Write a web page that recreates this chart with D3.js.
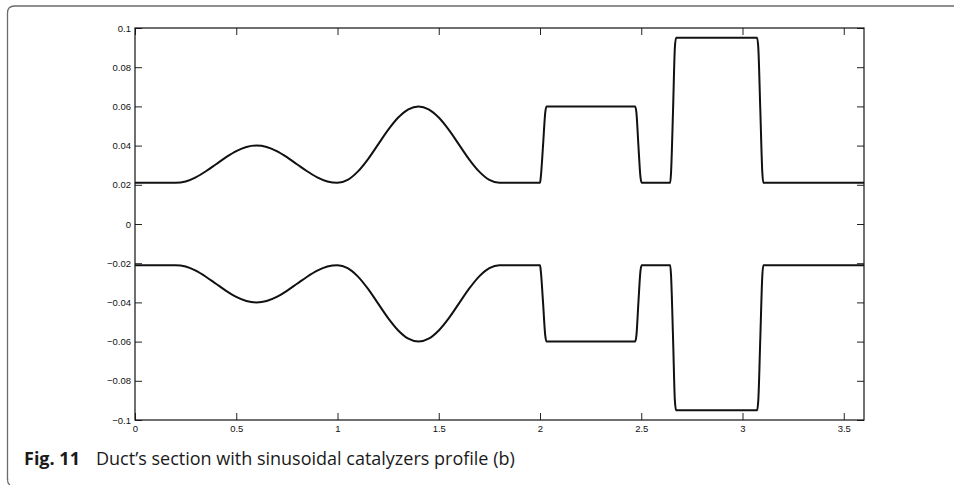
<!DOCTYPE html>
<html>
<head>
<meta charset="utf-8">
<script src="https://cdn.jsdelivr.net/npm/d3@7"></script>
<style>
  html, body { margin: 0; padding: 0; background: #fff; }
  svg { display: block; }
</style>
</head>
<body>
<svg id="chart" width="954" height="485"></svg>
<script>
// Axial position along the duct
const xPos = [0, 0.1, 0.2, 0.25, 0.3, 0.35, 0.4, 0.45, 0.5, 0.55, 0.6, 0.65, 0.7, 0.75, 0.8, 0.85, 0.9, 0.95, 1.0,
  1.05, 1.1, 1.15, 1.2, 1.25, 1.3, 1.35, 1.4, 1.45, 1.5, 1.55, 1.6, 1.65, 1.7, 1.75, 1.8, 1.9,
  2.0, 2.004, 2.015, 2.026, 2.032, 2.47, 2.476, 2.486, 2.496, 2.502,
  2.643, 2.647, 2.657, 2.666, 2.672, 3.072, 3.078, 3.088, 3.098, 3.103, 3.6];

// Upper wall of the duct section
const upperWall = [0.021, 0.021, 0.021, 0.0217, 0.0238, 0.0269, 0.0305, 0.0341, 0.0372, 0.0393, 0.040, 0.0393, 0.0372, 0.0341, 0.0305, 0.0269, 0.0238, 0.0217, 0.021,
  0.0225, 0.0267, 0.0330, 0.0405, 0.0480, 0.0543, 0.0585, 0.060, 0.0585, 0.0543, 0.0480, 0.0405, 0.0330, 0.0267, 0.0225, 0.021, 0.021,
  0.021, 0.024, 0.040, 0.057, 0.060, 0.060, 0.057, 0.040, 0.024, 0.021,
  0.021, 0.026, 0.058, 0.090, 0.095, 0.095, 0.090, 0.058, 0.026, 0.021, 0.021];

// Lower wall of the duct section
const lowerWall = [-0.021, -0.021, -0.021, -0.0217, -0.0238, -0.0269, -0.0305, -0.0341, -0.0372, -0.0393, -0.040, -0.0393, -0.0372, -0.0341, -0.0305, -0.0269, -0.0238, -0.0217, -0.021,
  -0.0225, -0.0267, -0.0330, -0.0405, -0.0480, -0.0543, -0.0585, -0.060, -0.0585, -0.0543, -0.0480, -0.0405, -0.0330, -0.0267, -0.0225, -0.021, -0.021,
  -0.021, -0.024, -0.040, -0.057, -0.060, -0.060, -0.057, -0.040, -0.024, -0.021,
  -0.021, -0.026, -0.058, -0.090, -0.095, -0.095, -0.090, -0.058, -0.026, -0.021, -0.021];

const xTicks = [0, 0.5, 1, 1.5, 2, 2.5, 3, 3.5];
const xTickLabels = ["0", "0.5", "1", "1.5", "2", "2.5", "3", "3.5"];
const yTicks = [0.1, 0.08, 0.06, 0.04, 0.02, 0, -0.02, -0.04, -0.06, -0.08, -0.1];
const yTickLabels = ["0.1", "0.08", "0.06", "0.04", "0.02", "0", "\u22120.02", "\u22120.04", "\u22120.06", "\u22120.08", "\u22120.1"];

const xDomain = [0, 3.6];
const yDomain = [-0.1, 0.1];

const captionLabel = "Fig. 11";
const captionText = "Duct\u2019s section with sinusoidal catalyzers profile (b)";

const svg = d3.select("#chart");

// Card frame: top and left edges with a rounded corner
svg.append("path")
  .attr("d", "M7.5,480 L7.5,13 Q7.5,6 14.5,6 L954,6")
  .attr("fill", "none")
  .attr("stroke", "#6b6b6b")
  .attr("stroke-width", 1.3);
svg.append("path")
  .attr("d", "M7.5,479 Q7.5,483.5 10,485")
  .attr("fill", "none")
  .attr("stroke", "#6b6b6b")
  .attr("stroke-width", 1.3);

const plot = { left: 135, top: 28, right: 864, bottom: 420 };

const x = d3.scaleLinear().domain(xDomain).range([plot.left, plot.right]);
const y = d3.scaleLinear().domain(yDomain).range([plot.bottom, plot.top]);

const tickLen = 7;
const tickFont = "'Liberation Sans', Arial, Helvetica, sans-serif";

function styleAxis(g, showLabels) {
  g.select(".domain").remove();
  g.selectAll(".tick line").attr("stroke", "#222").attr("stroke-width", 1);
  g.selectAll(".tick text")
    .attr("fill", "#111")
    .style("font-family", tickFont)
    .style("font-size", "9.5px");
  if (!showLabels) g.selectAll(".tick text").remove();
}

// Bottom axis (labelled), ticks pointing inward
svg.append("g")
  .attr("transform", `translate(0,${plot.bottom})`)
  .call(d3.axisBottom(x).tickValues(xTicks).tickSize(-tickLen).tickSizeOuter(0).tickPadding(5)
    .tickFormat((d, i) => xTickLabels[i]))
  .call(g => styleAxis(g, true));

// Top axis (ticks only)
svg.append("g")
  .attr("transform", `translate(0,${plot.top})`)
  .call(d3.axisTop(x).tickValues(xTicks).tickSize(-tickLen).tickSizeOuter(0))
  .call(g => styleAxis(g, false));

// Left axis (labelled)
svg.append("g")
  .attr("transform", `translate(${plot.left},0)`)
  .call(d3.axisLeft(y).tickValues(yTicks).tickSize(-tickLen).tickSizeOuter(0).tickPadding(4)
    .tickFormat((d, i) => yTickLabels[i]))
  .call(g => styleAxis(g, true));

// Right axis (ticks only)
svg.append("g")
  .attr("transform", `translate(${plot.right},0)`)
  .call(d3.axisRight(y).tickValues(yTicks).tickSize(-tickLen).tickSizeOuter(0))
  .call(g => styleAxis(g, false));

// Plot box
svg.append("rect")
  .attr("x", plot.left)
  .attr("y", plot.top)
  .attr("width", plot.right - plot.left)
  .attr("height", plot.bottom - plot.top)
  .attr("fill", "none")
  .attr("stroke", "#111")
  .attr("stroke-width", 1.2);

// Wall profiles
const line = d3.line()
  .x(d => x(d[0]))
  .y(d => y(d[1]))
  .curve(d3.curveMonotoneX);

[upperWall, lowerWall].forEach(series => {
  svg.append("path")
    .datum(xPos.map((xv, i) => [xv, series[i]]))
    .attr("d", line)
    .attr("fill", "none")
    .attr("stroke", "#111")
    .attr("stroke-width", 2)
    .attr("stroke-linejoin", "round");
});

// Caption
const cap = svg.append("text")
  .attr("x", 24)
  .attr("y", 465)
  .style("font-family", "'Open Sans', 'Noto Sans', sans-serif")
  .style("font-size", "18px")
  .attr("fill", "#1a1a1a");
cap.append("tspan").style("font-weight", "bold").text(captionLabel);
cap.append("tspan").attr("x", 96).text(captionText);
</script>
</body>
</html>
